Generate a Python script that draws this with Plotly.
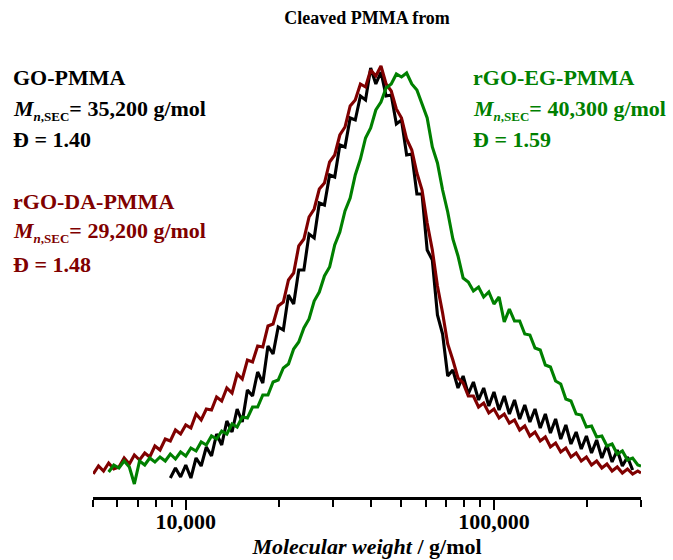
import numpy as np
import plotly.graph_objects as go

# Molecular weight sampling of the SEC traces (g/mol)
mw = [5010, 5210, 5410, 5620, 5840, 6070, 6310, 6560, 6810, 7080, 7360, 7640, 7940, 8250, 8580, 8910, 9260, 9620,
      10000, 10390, 10800, 11220, 11660, 12120, 12590, 13080, 13590, 14130, 14680, 15250, 15850, 16470, 17110, 17780,
      18480, 19200, 19950, 20730, 21540, 22390, 23260, 24170, 25120, 26100, 27120, 28180, 29290, 30430, 31620, 32860,
      34150, 35480, 36870, 38310, 39810, 41370, 42990, 44670, 46420, 48230, 50120, 52080, 54120, 56230, 58430, 60720,
      63100, 65560, 68130, 70790, 73560, 76440, 79430, 82540, 85770, 89130, 92610, 96240,
      100000, 103900, 108000, 112200, 116600, 121200, 125900, 130800, 135900, 141300, 146800, 152500, 158500, 164700,
      171100, 177800, 184800, 192000, 199500, 207300, 215400, 223900, 232600, 241700, 251200, 261000, 271200, 281800,
      292900, 300000]

# Detector response (arbitrary units); None where a trace was not recorded
go_pmma = [None] * 15 + [
    2, 12, 3, 15, 2, 22, 14, 33, 24, 46, 35, 59, 48, 71, 58, 90, 84, 108, 97, 134,
    126, 153, 150, 185, 176, 210, 210, 246, 242, 277, 275, 305, 303, 335, 333, 362, 360, 384, 380, 412,
    396, 408, 384, 385, 356, 360, 325, 326, 286, 286, 230, 220, 165, 146, 104, 110, 92, 104, 86, 98,
    80, 92, 74, 88, 70, 84, 66, 80, 61, 75, 58, 71, 52, 66, 47, 61, 41, 55, 36, 48,
    31, 44, 27, 40, 22, 35, 18, 30, 14, 23, 10] + [None] * 2

rgo_da_pmma = [
    6, 14, 9, 17, 11, 13, 22, 16, 25, 20, 27, 23, 34, 30, 41, 39, 50, 46, 55, 52,
    66, 60, 71, 70, 83, 79, 92, 87, 106, 101, 120, 118, 134, 133, 154, 156, 174, 178, 200, 207,
    234, 241, 263, 271, 291, 297, 318, 325, 345, 353, 374, 380, 396, 393, 410, 404, 414, 396, 389, 371,
    362, 341, 330, 307, 290, 257, 230, 194, 167, 136, 120, 102, 97, 84, 84, 73, 77, 67, 71, 62,
    66, 57, 60, 50, 54, 44, 48, 39, 43, 33, 37, 28, 32, 23, 27, 19, 23, 15, 19, 12,
    16, 9, 13, 7, 11, 6, 9, 7]

rgo_eg_pmma = [None] * 3 + [
    8, 15, 12, 19, 13, -4, 19,
    15, 22, 18, 23, 19, 26, 21, 28, 24, 32, 29, 38, 35, 44, 41, 49, 46, 56, 53, 63,
    62, 73, 73, 85, 85, 98, 100, 112, 116, 131, 138, 152, 161, 179, 188, 204, 213, 235, 248, 269,
    282, 305, 321, 342, 352, 370, 378, 392, 396, 406, 403, 407, 396, 390, 375, 362, 333, 317, 290, 268,
    241, 224, 202, 198, 189, 193, 183, 188, 176, 183, 158, 171, 159, 159, 146, 145, 132, 130, 115, 113,
    99, 96, 81, 79, 66, 65, 53, 54, 43, 44, 34, 36, 26, 29, 20, 22, 15, 14]

major_ticks = [10000, 100000]
major_labels = ["10,000", "100,000"]
minor_ticks = [5000, 6000, 7000, 8000, 9000, 20000, 30000, 40000, 50000, 60000, 70000, 80000, 90000,
               200000, 300000]

BLACK = "#000000"
RED = "#800000"
GREEN = "#008000"
SERIF = "Liberation Serif, Times New Roman, serif"

fig = go.Figure()
for vals, col in [(go_pmma, BLACK), (rgo_da_pmma, RED), (rgo_eg_pmma, GREEN)]:
    fig.add_trace(go.Scatter(x=mw, y=vals, mode="lines", line=dict(color=col, width=3.1),
                             connectgaps=False, hoverinfo="skip"))

MN = "<i>M</i><sub><span style='font-size:13px'><i>n</i>,SEC</span></sub>"

# Sample labels: (lines, colour, left x in paper units, y of each line in paper units)
labels = [
    (["GO-PMMA", MN + "= 35,200 g/mol", "Đ = 1.40"], BLACK, -0.1496,
     [0.923, 0.853, 0.788]),
    (["rGO-DA-PMMA", MN + "= 29,200 g/mol", "Đ = 1.48"], RED, -0.1496,
     [0.650, 0.583, 0.513]),
    (["rGO-EG-PMMA", MN + "= 40,300 g/mol", "Đ = 1.59"], GREEN, 0.6897,
     [0.923, 0.853, 0.788]),
]
for lines, col, x0, ys in labels:
    for txt, y0 in zip(lines, ys):
        fig.add_annotation(text="<b>" + txt + "</b>", x=x0, y=y0, xref="paper", yref="paper",
                           xanchor="left", yanchor="middle", showarrow=False,
                           font=dict(family=SERIF, size=22, color=col))

fig.update_layout(
    width=673, height=560,
    margin=dict(l=93, r=32, t=43, b=63, autoexpand=False),
    paper_bgcolor="white", plot_bgcolor="white",
    showlegend=False,
    title=dict(text="<b>Cleaved PMMA from</b>", x=0.5, xref="paper", xanchor="center",
               y=1 - 18 / 560, yref="container", yanchor="middle",
               font=dict(family=SERIF, size=18, color=BLACK)),
    xaxis=dict(type="log", range=[np.log10(5000), np.log10(300000)],
               tickmode="array", tickvals=major_ticks, ticktext=major_labels,
               ticks="outside", ticklen=10, tickwidth=2.2, tickcolor=BLACK,
               minor=dict(tickmode="array", tickvals=minor_ticks, ticks="outside",
                          ticklen=7, tickwidth=2.2, tickcolor=BLACK),
               showline=True, linecolor=BLACK, linewidth=2.6, mirror=False,
               showgrid=False, zeroline=False, automargin=False,
               ticklabelstandoff=-7,
               tickfont=dict(family=SERIF, size=22, color=BLACK, weight="bold"),
               title=dict(text="<b><i>Molecular weight</i> / g/mol</b>", standoff=0,
                          font=dict(family=SERIF, size=22, color=BLACK))),
    yaxis=dict(visible=False, range=[-17, 437]),
)

fig.write_html("out.html")
